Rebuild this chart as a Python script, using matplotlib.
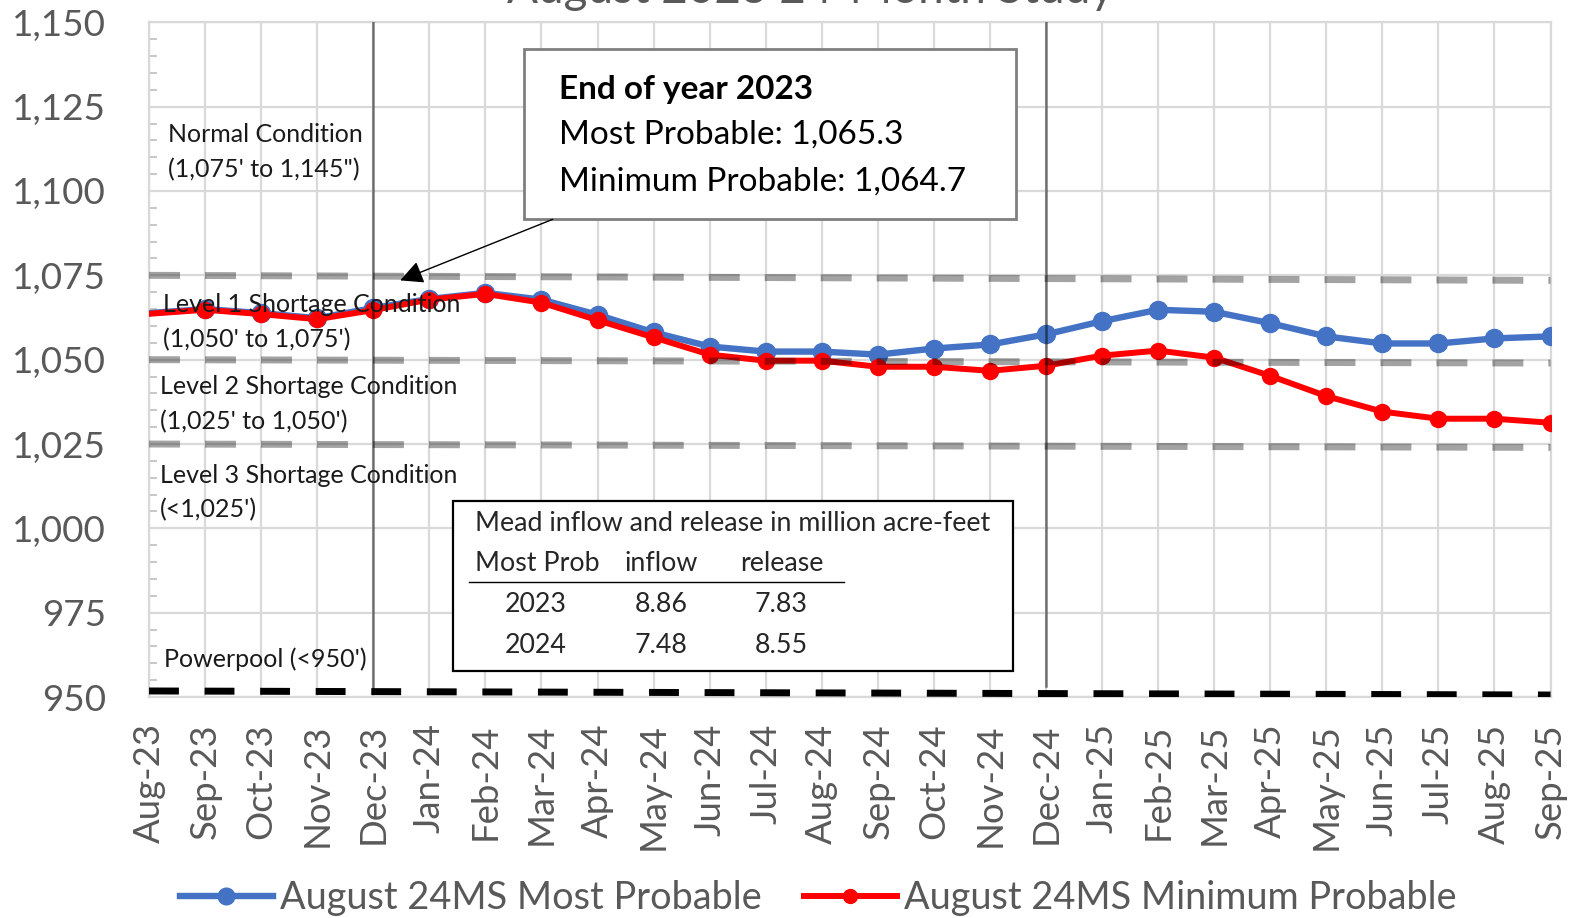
import matplotlib
matplotlib.use("Agg")
import matplotlib.pyplot as plt
from matplotlib.patches import Rectangle
from matplotlib.lines import Line2D
import numpy as np

plt.rcParams['font.family'] = ['Lato', 'DejaVu Sans']
plt.rcParams['lines.scale_dashes'] = False

months = ["Aug-23", "Sep-23", "Oct-23", "Nov-23", "Dec-23", "Jan-24", "Feb-24", "Mar-24",
          "Apr-24", "May-24", "Jun-24", "Jul-24", "Aug-24", "Sep-24", "Oct-24", "Nov-24",
          "Dec-24", "Jan-25", "Feb-25", "Mar-25", "Apr-25", "May-25", "Jun-25", "Jul-25",
          "Aug-25", "Sep-25"]
most_probable = [1063.8, 1065.0, 1063.8, 1062.3, 1065.3, 1068.0, 1069.8, 1067.8,
                 1063.3, 1058.1, 1053.9, 1052.4, 1052.4, 1051.5, 1053.3, 1054.5,
                 1057.5, 1061.4, 1064.8, 1064.2, 1060.8, 1056.9, 1054.8, 1054.8,
                 1056.3, 1056.9]
min_probable = [1063.6, 1064.8, 1063.5, 1062.0, 1064.7, 1067.8, 1069.5, 1066.9,
                1061.7, 1056.6, 1051.5, 1049.7, 1049.7, 1047.9, 1047.9, 1046.7,
                1048.2, 1051.2, 1052.7, 1050.6, 1045.2, 1039.2, 1034.6, 1032.5,
                1032.5, 1031.3]
y_ticks = [950, 975, 1000, 1025, 1050, 1075, 1100, 1125, 1150]
y_tick_labels = ["950", "975", "1,000", "1,025", "1,050", "1,075", "1,100", "1,125", "1,150"]
series_names = ["August 24MS Most Probable", "August 24MS Minimum Probable"]
condition_lines = [(1075.0, 1073.5), (1050.0, 1049.0), (1025.0, 1024.0)]
powerpool_line = (951.8, 950.6)
table_header = ["Most Prob", "inflow", "release"]
table_rows = [["2023", "8.86", "7.83"], ["2024", "7.48", "8.55"]]

BLUE = "#4472C4"
RED = "#FF0000"
GRAY_TXT = "#595959"

fig = plt.figure(figsize=(15.89, 9.18), dpi=100)
ax = fig.add_axes([0.0938, 0.2407, 0.8820, 0.7350])
x = np.arange(len(months))

ax.set_xlim(0, len(months) - 1)
ax.set_ylim(950, 1150)

# grid
ax.set_yticks(y_ticks)
ax.set_yticklabels(y_tick_labels)
ax.set_yticks(np.arange(950, 1151, 5), minor=True)
ax.set_xticks(x)
ax.set_xticklabels(months, rotation=90)
ax.grid(True, which='major', color='#d9d9d9', linewidth=1.6, zorder=0)
ax.set_axisbelow(True)
for s in ax.spines.values():
    s.set_color('#d9d9d9')
    s.set_linewidth(1.6)
ax.tick_params(axis='y', which='major', length=0, pad=31, labelsize=26.5, labelcolor=GRAY_TXT)
ax.tick_params(axis='y', which='minor', direction='in', length=6, width=1.2, color='#bfbfbf')
ax.tick_params(axis='x', which='major', length=0, pad=19, labelsize=26.3, labelcolor=GRAY_TXT)

# condition dashed lines
for y0, y1 in condition_lines:
    ax.plot([0, len(months) - 1], [y0, y1], color='black', alpha=0.36, lw=5,
            linestyle=(0, (22.3, 18.0)), dash_capstyle='butt', zorder=6)
ax.plot([0, len(months) - 1], list(powerpool_line), color='black', lw=5,
        linestyle=(0, (21.5, 18.5)), dash_capstyle='butt', zorder=6)

# data lines
ax.plot(x, most_probable, color=BLUE, lw=4.6, marker='o', markersize=13,
        markevery=list(range(1, len(months))), zorder=3, label=series_names[0])
ax.plot(x, min_probable, color=RED, lw=4.3, marker='o', markersize=11.5,
        markevery=list(range(1, len(months))), zorder=4, label=series_names[1])

# year separator lines
ax.plot([4, 4], [952.4, 1150], color='black', alpha=0.5, lw=1.8, zorder=7)
ax.plot([16, 16], [953.3, 1150], color='black', alpha=0.5, lw=1.8, zorder=7)

# condition labels
lbl = dict(fontsize=18, color='#1a1a1a', va='center', ha='left', zorder=8)
ax.text(0.33, 1116.6, "Normal Condition", **lbl)
ax.text(0.33, 1106.3, "(1,075' to 1,145\")", **lbl)
ax.text(0.24, 1066.3, "Level 1 Shortage Condition", **lbl)
ax.text(0.24, 1056.0, "(1,050' to 1,075')", **lbl)
ax.text(0.20, 1041.9, "Level 2 Shortage Condition", **lbl)
ax.text(0.20, 1031.6, "(1,025' to 1,050')", **lbl)
ax.text(0.20, 1015.7, "Level 3 Shortage Condition", **lbl)
ax.text(0.20, 1005.4, "(<1,025')", **lbl)
ax.text(0.27, 961.1, "Powerpool (<950')", **lbl)

# end-of-year callout
ax.add_patch(Rectangle((6.69, 1091.6), 15.46 - 6.69, 1142.2 - 1091.6, facecolor='white',
                       edgecolor='#7f7f7f', lw=2, zorder=9))
ax.annotate("", xy=(4.48, 1073.5), xytext=(7.2, 1091.6),
            arrowprops=dict(arrowstyle='-|>', color='black', lw=1.0,
                            mutation_scale=35, shrinkA=0, shrinkB=0), zorder=9)
ax.text(7.32, 1130.1, "End of year 2023", fontsize=24, fontweight='bold', color='black',
        va='center', ha='left', zorder=10)
ax.text(7.32, 1116.6, "Most Probable: 1,065.3", fontsize=24, color='black',
        va='center', ha='left', zorder=10)
ax.text(7.32, 1102.7, "Minimum Probable: 1,064.7", fontsize=24, color='black',
        va='center', ha='left', zorder=10)

# inflow / release table
ax.add_patch(Rectangle((5.42, 957.8), 15.41 - 5.42, 1008.1 - 957.8, facecolor='white',
                       edgecolor='black', lw=1.6, zorder=9))
tk = dict(fontsize=19.3, color='#262626', va='center', zorder=10)
ax.text(5.82, 1001.5, "Mead inflow and release in million acre-feet", ha='left', **tk)
ax.text(5.82, 989.5, table_header[0], ha='left', **tk)
ax.text(9.13, 989.5, table_header[1], ha='center', **tk)
ax.text(11.28, 989.5, table_header[2], ha='center', **tk)
ax.plot([5.70, 12.39], [984.0, 984.0], color='black', lw=1.0, zorder=10)
row_y = [977.4, 965.4]
col_x = [6.89, 9.13, 11.28]
for ry, row in zip(row_y, table_rows):
    for cx, val in zip(col_x, row):
        ax.text(cx, ry, val, ha='center', **tk)

# title (cut off at top, as in the reference)
fig.text(0.510, 1 - 3 / 918, "August 2023 24-Month Study", fontsize=33, color=GRAY_TXT,
         ha='center', va='baseline')

# legend
handles = [Line2D([], [], color=BLUE, lw=4.6, marker='o', markersize=12),
           Line2D([], [], color=RED, lw=4.3, marker='o', markersize=10)]
fig.legend(handles, series_names, loc='center', bbox_to_anchor=(0.515, 0.0215), ncol=2,
           frameon=False, fontsize=27.3, labelcolor=GRAY_TXT, handlelength=2.45,
           handletextpad=0.2, columnspacing=1.1)

fig.savefig("out.png", dpi=100)
